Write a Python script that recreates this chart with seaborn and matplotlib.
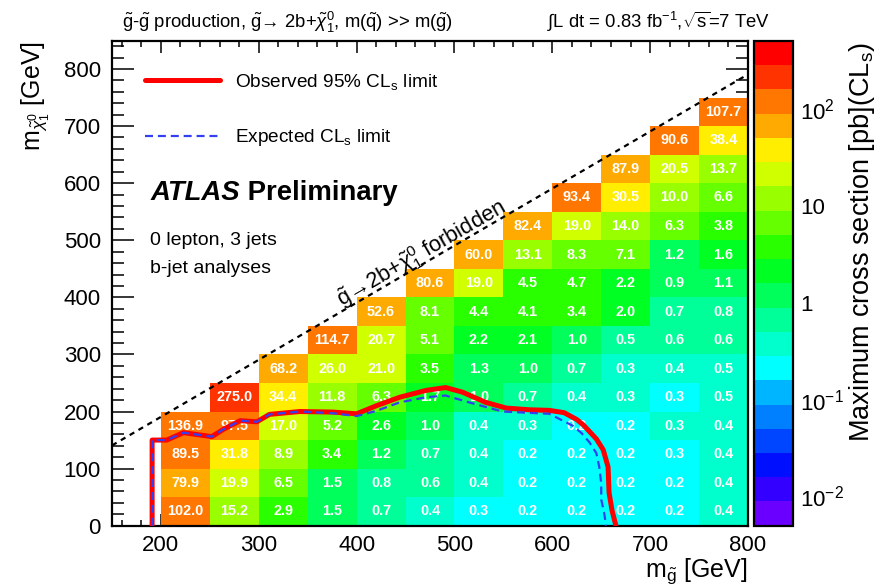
import numpy as np
import pandas as pd
import matplotlib
matplotlib.use('Agg')
import matplotlib.pyplot as plt
from matplotlib.colors import ListedColormap, LogNorm
from matplotlib.ticker import MultipleLocator, LogLocator, FixedLocator, FixedFormatter, NullFormatter
import seaborn as sns

# -- cell centres of the scan (GeV) --
M_GLUINO = [225, 275, 325, 375, 425, 475, 525, 575, 625, 675, 725, 775]
M_CHI = [25, 75, 125, 175, 225, 275, 325, 375, 425, 475, 525, 575, 625, 675, 725]

# maximum cross section (pb) per gluino column, from the lowest m_chi upwards
# (a few values given with one more digit)
XS_225 = [102.0, 79.9, 89.5, 136.9]
XS_275 = [15.2, 19.9, 31.8, 97.5, 275.0]
XS_325 = [2.9, 6.5, 8.9, 17.0, 34.4, 68.2]
XS_375 = [1.5, 1.5, 3.4, 5.2, 11.8, 26.0, 114.7]
XS_425 = [0.7, 0.8, 1.2, 2.6, 6.3, 21.0, 20.7, 52.6]
XS_475 = [0.4, 0.6, 0.7, 1.0, 1.7, 3.5, 5.1, 8.1, 80.6]
XS_525 = [0.27, 0.4, 0.4, 0.4, 1.0, 1.3, 2.2, 4.4, 19.0, 60.0]
XS_575 = [0.2, 0.2, 0.2, 0.3, 0.7, 1.0, 2.1, 4.1, 4.5, 13.1, 82.4]
XS_625 = [0.2, 0.2, 0.2, 0.2, 0.4, 0.7, 1.0, 3.4, 4.7, 8.3, 19.0, 93.4]
XS_675 = [0.2, 0.2, 0.2, 0.2, 0.3, 0.3, 0.52, 2.0, 2.2, 7.1, 14.0, 30.5, 87.9]
XS_725 = [0.2, 0.2, 0.27, 0.3, 0.27, 0.4, 0.6, 0.7, 0.9, 1.2, 6.3, 10.0, 20.5, 90.6]
XS_775 = [0.4, 0.4, 0.4, 0.4, 0.48, 0.48, 0.6, 0.8, 1.1, 1.6, 3.8, 6.6, 13.7, 38.4, 107.7]
XS_COLUMNS = [XS_225, XS_275, XS_325, XS_375, XS_425, XS_475,
              XS_525, XS_575, XS_625, XS_675, XS_725, XS_775]

# observed / expected 95% CLs exclusion contours
OBS_MG = [191, 191, 206, 223, 252, 264, 281, 298, 311, 342, 376, 400, 420, 444,
          471, 491, 508, 532, 553, 577, 597, 612, 625, 632, 645, 652, 657, 658, 661, 665]
OBS_MCHI = [0, 150, 150, 163, 156, 169, 184, 182, 195, 200, 199, 196, 210, 225,
            237, 242, 234, 216, 206, 203, 202, 198, 186, 176, 152, 133, 103, 58, 27, 0]
EXP_MG = [191, 191, 206, 223, 252, 264, 281, 298, 311, 342, 376, 400, 420, 444,
          471, 491, 515, 549, 597, 621, 630, 638, 645, 648, 650, 650, 653, 655]
EXP_MCHI = [0, 150, 150, 163, 156, 169, 184, 182, 195, 200, 197, 192, 201, 216,
            225, 228, 216, 200, 196, 175, 162, 146, 127, 103, 74, 46, 22, 0]

# kinematic limit g -> 2b + chi
KIN_MG = [150, 800]
KIN_MCHI = [140.6, 790.6]

# colour bands of the z axis (20 log-spaced levels)
BAND_COLORS = ['#6a00ff', '#3300ff', '#0010ff', '#0045ff', '#0080ff',
               '#00b5ff', '#00ffff', '#00ffcc', '#00ff99', '#00ff5a',
               '#00ff22', '#2aff00', '#66ff00', '#99ff00', '#d0ff00',
               '#ffee00', '#ffaa00', '#ff7700', '#ff3300', '#ff0000']
Z_RANGE = (0.005, 500)
CBAR_TICKS = [0.01, 0.1, 1, 10, 100]
CBAR_LABELS = [r'$10^{-2}$', r'$10^{-1}$', '1', '10', r'$10^{2}$']

W, H = 880, 588


def main():
    sns.set_style('ticks')
    plt.rcParams['font.family'] = ['Liberation Sans', 'DejaVu Sans']
    plt.rcParams['mathtext.fontset'] = 'custom'
    plt.rcParams['mathtext.rm'] = 'Liberation Sans'
    plt.rcParams['mathtext.it'] = 'Liberation Sans:italic'
    plt.rcParams['mathtext.bf'] = 'Liberation Sans:bold'
    plt.rcParams['axes.linewidth'] = 1.6
    for key in ['text.color', 'axes.labelcolor', 'xtick.color', 'ytick.color', 'axes.edgecolor']:
        plt.rcParams[key] = 'black'

    rows = []
    for mg, col in zip(M_GLUINO, XS_COLUMNS):
        for mchi, xsec in zip(M_CHI, col):
            rows.append((mg, mchi, xsec))
    df = pd.DataFrame(rows, columns=['mg', 'mchi', 'xsec'])

    fig = plt.figure(figsize=(W / 100, H / 100), dpi=100)
    ax_box = [112 / W, 1 - 525.7 / H, 636 / W, 484.7 / H]
    ax = fig.add_axes(ax_box)
    cax = fig.add_axes([754 / W, ax_box[1], 39 / W, ax_box[3]])

    cmap = ListedColormap(BAND_COLORS)
    norm = LogNorm(*Z_RANGE)
    sns.histplot(data=df, x='mg', y='mchi', weights='xsec', binwidth=50,
                 binrange=((200, 800), (0, 750)), cmap=cmap, norm=norm,
                 vmin=None, vmax=None, ax=ax, zorder=1)
    mesh = ax.collections[0]

    for mg, mchi, xsec in rows:
        ax.text(mg, mchi, f'{xsec:.1f}', color='white', fontsize=10.4,
                fontweight='bold', ha='center', va='center', zorder=2)

    sns.lineplot(x=KIN_MG, y=KIN_MCHI, ax=ax, color='black', lw=1.6,
                 linestyle=(0, (2.4, 2.2)), zorder=3)
    sns.lineplot(x=OBS_MG, y=OBS_MCHI, sort=False, estimator=None, ax=ax,
                 color='#ff0000', lw=3.6, zorder=4,
                 label=r'Observed 95% CL$_\mathrm{s}$ limit')
    sns.lineplot(x=EXP_MG, y=EXP_MCHI, sort=False, estimator=None, ax=ax,
                 color='#3340f0', lw=1.6, linestyle=(0, (3.6, 2.2)), zorder=5,
                 label=r'Expected CL$_\mathrm{s}$ limit')

    ax.legend(loc='upper left', bbox_to_anchor=(0.052, 0.936), frameon=False,
              fontsize=13.7, handlelength=3.95, handletextpad=0.8,
              labelspacing=1.85, borderpad=0, borderaxespad=0)

    ax.set_xlim(150, 800)
    ax.set_ylim(0, 849)
    ax.xaxis.set_major_locator(MultipleLocator(100))
    ax.xaxis.set_minor_locator(MultipleLocator(20))
    ax.yaxis.set_major_locator(MultipleLocator(100))
    ax.yaxis.set_minor_locator(MultipleLocator(20))
    ax.tick_params(which='both', direction='in', top=True, right=True,
                   width=1.1, labelsize=16)
    ax.tick_params(axis='x', which='major', length=8.9, pad=6.5)
    ax.tick_params(axis='x', which='minor', length=4.1)
    ax.tick_params(axis='y', which='major', length=15.6, pad=8)
    ax.tick_params(axis='y', which='minor', length=8.4)

    ax.set_xlabel(r'm$_{\tilde{\mathrm{g}}}$ [GeV]', fontsize=18, loc='right')
    ax.xaxis.set_label_coords(1.0, -0.063)
    ax.set_ylabel(r'm$_{\tilde{\chi}^{0}_{1}}$ [GeV]', fontsize=18, loc='top')
    ax.yaxis.set_label_coords(-0.095, 1.0)

    ax.text(470, 466, r'$\tilde{\mathrm{g}}$→2b+$\tilde{\chi}^{0}_{1}$ forbidden',
            rotation=30, rotation_mode='anchor', ha='center', va='baseline',
            fontsize=15.8, zorder=6)

    atlas = ax.text(0.06, 0.672, 'ATLAS', transform=ax.transAxes, fontsize=19.8,
                    fontweight='bold', fontstyle='italic', va='baseline', zorder=6)
    ax.annotate(' Preliminary', xy=(1, 0), xycoords=atlas, fontsize=19.8,
                fontweight='bold', va='bottom', zorder=6)
    ax.text(0.06, (525.7 - 245) / 484.7, '0 lepton, 3 jets', transform=ax.transAxes,
            fontsize=14, va='baseline')
    ax.text(0.06, (525.7 - 273) / 484.7, 'b-jet analyses', transform=ax.transAxes,
            fontsize=14, va='baseline')

    fig.text(122 / W, 1 - 28 / H,
             r'$\tilde{\mathrm{g}}$-$\tilde{\mathrm{g}}$ production, '
             r'$\tilde{\mathrm{g}}$→ 2b+$\tilde{\chi}^{0}_{1}$, '
             r'm($\tilde{\mathrm{q}}$) >> m($\tilde{\mathrm{g}}$)',
             fontsize=13.3, va='baseline')
    fig.text(547 / W, 1 - 28 / H,
             r'$\int$L dt = 0.83 fb$^{-1}$,$\sqrt{\mathrm{s}}$=7 TeV',
             fontsize=13.3, va='baseline')

    cbar = fig.colorbar(mesh, cax=cax)
    cbar.outline.set_linewidth(1.6)
    cax.yaxis.set_major_locator(FixedLocator(CBAR_TICKS))
    cax.yaxis.set_major_formatter(FixedFormatter(CBAR_LABELS))
    cax.yaxis.set_minor_locator(LogLocator(base=10, subs=np.arange(2, 10)))
    cax.yaxis.set_minor_formatter(NullFormatter())
    cax.tick_params(which='both', direction='in', right=True, left=False,
                    width=1.1, labelsize=16, pad=5)
    cax.tick_params(which='major', length=16)
    cax.tick_params(which='minor', length=7.5)
    fig.text(862 / W, 1 - 42 / H, r'Maximum cross section [pb](CL$_\mathrm{s}$)',
             rotation=90, ha='center', va='top', fontsize=19.5)

    fig.savefig('out.png', dpi=100)
    plt.close(fig)


if __name__ == '__main__':
    main()
